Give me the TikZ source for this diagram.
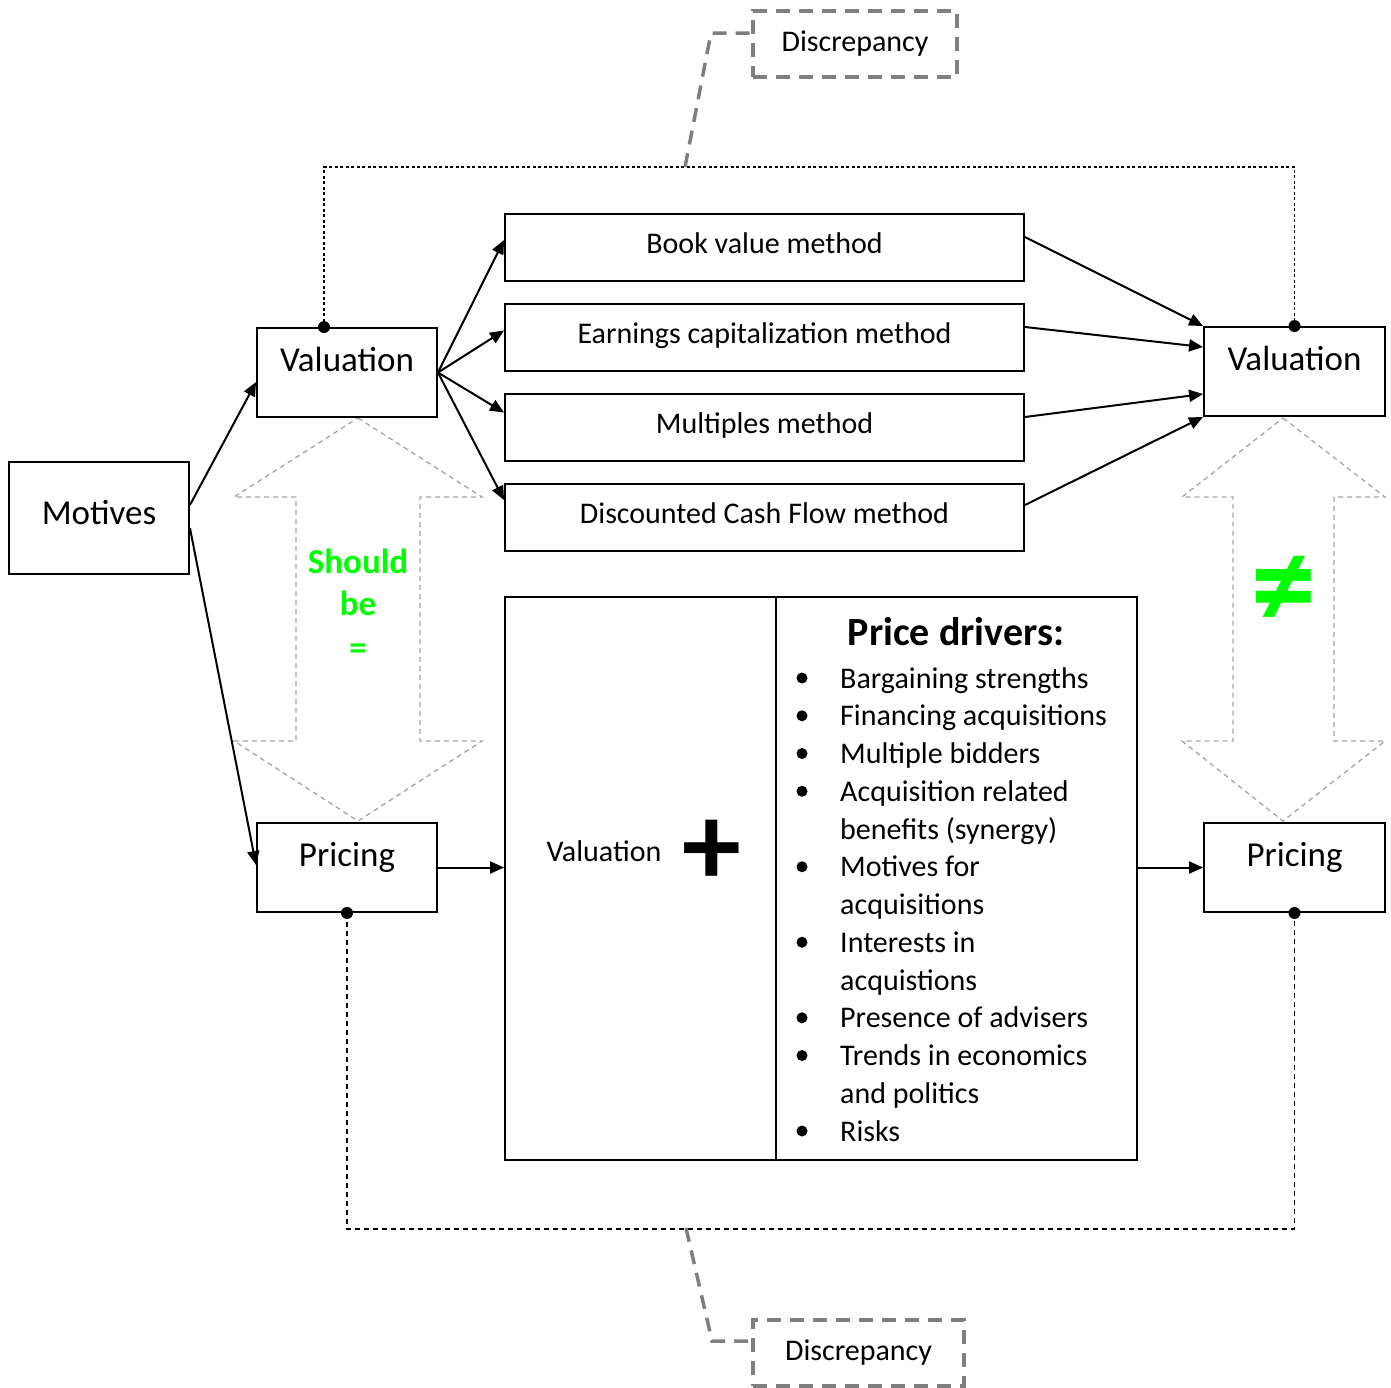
\documentclass[tikz,border=0pt]{standalone}
\usepackage{fontspec}
\setmainfont{Carlito}
\usetikzlibrary{arrows.meta,calc}
\definecolor{callgray}{HTML}{7F7F7F}
\definecolor{arrgray}{HTML}{A6A6A6}
\definecolor{signgreen}{HTML}{00FF00}

\begin{document}
\begin{tikzpicture}[x=1pt,y=-1pt,
  box/.style={draw, line width=1.9pt, inner sep=0pt, fill=white},
  labelbox/.style={box, minimum width=180pt, minimum height=89pt,
    text height=43pt, text depth=46pt, font=\fontsize{35}{42}\selectfont},
  methbox/.style={box, minimum width=519pt, minimum height=67pt,
    text height=39.5pt, text depth=27.5pt, font=\fontsize{30}{36}\selectfont},
  panel/.style={box, minimum height=563pt},
  flow/.style={line width=2pt, -{Triangle[length=14pt,width=12pt]}},
  dot/.style={circle, fill=black, inner sep=0pt, minimum size=12pt},
  finedash/.style={line width=1.2pt, dash pattern=on 3pt off 2.5pt},
  coarsedash/.style={line width=1.4pt, dash pattern=on 5pt off 4pt},
  callout/.style={draw=callgray, line width=3.5pt, dash pattern=on 14pt off 9pt,
    inner sep=0pt, font=\fontsize{30}{36}\selectfont},
  leader/.style={draw=callgray, line width=3.5pt, dash pattern=on 14pt off 9pt},
  twoway/.style={draw=arrgray, line width=1.3pt, dash pattern=on 5pt off 4pt},
  item/.style={inner sep=0pt, font=\fontsize{30}{36}\selectfont},
  bullet/.style={circle, fill=black, inner sep=0pt, minimum size=11pt},
  greentext/.style={inner sep=0pt, text=signgreen, font=\fontsize{35}{42}\selectfont\bfseries}
]
\useasboundingbox (0,0) rectangle (1391,1387);

% dashed double-headed arrows between valuation and pricing
\draw[twoway] (358,418) -- (482,497) -- (420,497) -- (420,741) -- (482,741)
  -- (358,821) -- (234,741) -- (296,741) -- (296,497) -- (234,497) -- cycle;
\draw[twoway] (1283,418) -- (1385,497) -- (1334,497) -- (1334,741) -- (1385,741)
  -- (1283,821) -- (1182,741) -- (1233,741) -- (1233,497) -- (1182,497) -- cycle;

% boxes
\node[labelbox, minimum height=112pt, text height=62.5pt, text depth=49.5pt] (mo) at (99,518) {Motives};
\node[labelbox] (vl) at (347,372.5) {Valuation};
\node[labelbox] (pl) at (347,867.5) {Pricing};
\node[labelbox, minimum width=181pt] (vr) at (1294.5,371.5) {Valuation};
\node[labelbox, minimum width=181pt] (pr) at (1294.5,867.5) {Pricing};

\node[methbox] (m1) at (764.5,247.5) {Book value method};
\node[methbox] (m2) at (764.5,337.5) {Earnings capitalization method};
\node[methbox] (m3) at (764.5,427.5) {Multiples method};
\node[methbox] (m4) at (764.5,517.5) {Discounted Cash Flow method};

\node[panel, minimum width=271pt] (vb) at (640.5,878.5) {};
\node[panel, minimum width=361pt] (db) at (956.5,878.5) {};

% valuation plus price drivers
\node[item, anchor=base] (vbtext) at (604,861) {Valuation};
\node[inner sep=0pt, font=\fontsize{118}{118}\selectfont\bfseries] (plus) at (712,853) {+};
\node[inner sep=0pt, anchor=base, font=\fontsize{40}{48}\selectfont\bfseries] (pdhead) at (956,645) {Price drivers:};
\foreach \k/\txt/\b in {0/Bargaining strengths/1, 1/Financing acquisitions/1,
  2/Multiple bidders/1, 3/Acquisition related/1, 4/benefits (synergy)/0,
  5/Motives for/1, 6/acquisitions/0, 7/Interests in/1, 8/acquistions/0,
  9/Presence of advisers/1, 10/Trends in economics/1, 11/and politics/0, 12/Risks/1}{
  \node[item, anchor=base west] (li\k) at (840,{688+37.75*\k}) {\txt};
  \ifnum\b=1 \node[bullet] (bu\k) at (802,{678+37.75*\k}) {};\fi
}

% green remarks
\node[greentext, anchor=base] (sh1) at (358,573) {Should};
\node[greentext, anchor=base] (sh2) at (358,615) {be};
\node[greentext, anchor=base] (sh3) at (358,659) {=};
\node[inner sep=0pt, text=signgreen, font=\fontsize{130}{130}\selectfont\bfseries] (neq) at (1284,592) {≠};

% flow arrows
\draw[flow] ([yshift=13pt]mo.east) -- ([yshift=-9.5pt]vl.west);
\draw[flow] ([yshift=-10pt]mo.east) -- ([yshift=2.5pt]pl.west);
\draw[flow] (vl.east) -- ([yshift=7.5pt]m1.west);
\draw[flow] (vl.east) -- ([yshift=7pt]m2.west);
\draw[flow] (vl.east) -- ([yshift=15pt]m3.west);
\draw[flow] (vl.east) -- ([yshift=17.5pt]m4.west);
\draw[flow] ([yshift=10.5pt]m1.east) -- (vr.north west);
\draw[flow] ([yshift=10.5pt]m2.east) -- ([yshift=24.5pt]vr.west);
\draw[flow] ([yshift=10.5pt]m3.east) -- ([yshift=-22.5pt]vr.west);
\draw[flow] ([yshift=12.5pt]m4.east) -- (vr.south west);
\draw[flow] (pl.east) -- (pl.east -| vb.west);
\draw[flow] (db.east |- pr.west) -- (pr.west);

% comparison links with dots
\node[dot] (d1) at ([xshift=-23pt]vl.north) {};
\node[dot] (d2) at (vr.north) {};
\node[dot] (d3) at (pl.south) {};
\node[dot] (d4) at (pr.south) {};
\draw[finedash] (d1.center) -- ([yshift=160pt]d1.center) -| (d2.center);
\draw[coarsedash] (d3.center) -- ([yshift=-316pt]d3.center) -| (d4.center);

% discrepancy callouts
\node[callout, minimum width=204pt, minimum height=66pt, text height=40pt, text depth=26pt] (disc1) at (855,44) {Discrepancy};
\node[callout, minimum width=211pt, minimum height=66pt, text height=40pt, text depth=26pt] (disc2) at (858.5,1353) {Discrepancy};
\coordinate (t1) at (685,167);
\coordinate (t2) at (686,1228);
\draw[leader] (t1) -- (711,33) -- ([yshift=11pt]disc1.west);
\draw[leader] (t2) -- (712,1341) -- ([yshift=12pt]disc2.west);
\end{tikzpicture}
\end{document}
